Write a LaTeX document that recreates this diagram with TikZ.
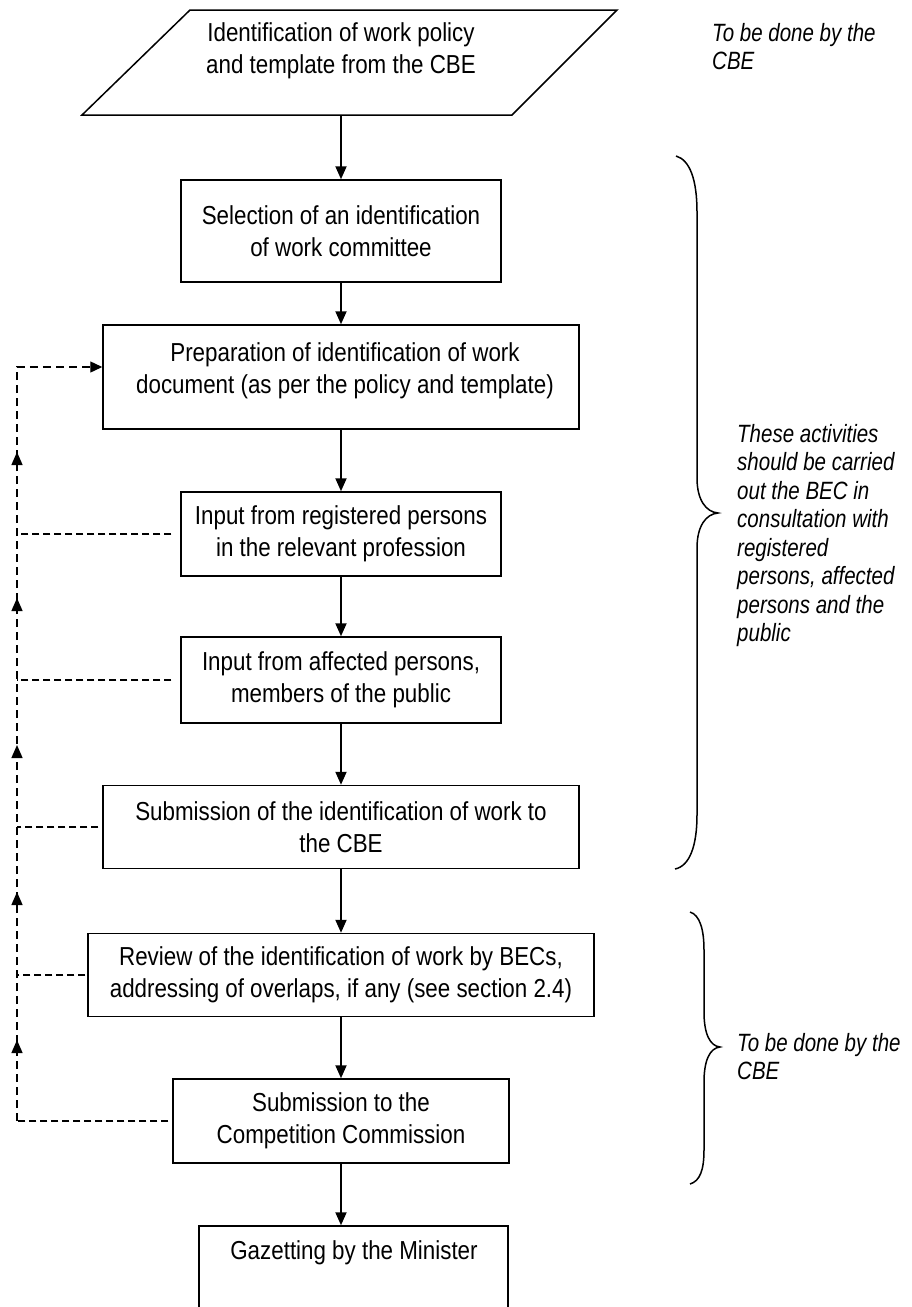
\documentclass[tikz,border=0pt]{standalone}
\usepackage{fontspec}
\setmainfont[FakeStretch=0.86]{Liberation Sans}
\newfontfamily\sidefam[FakeStretch=0.82]{Liberation Sans}
\usetikzlibrary{arrows.meta,decorations.markings}
\newcommand\boxfont{\fontsize{26}{32}\selectfont}
\newcommand\sidetext{\sidefam\itshape\fontsize{25}{28.5}\selectfont}
\begin{document}
\begin{tikzpicture}[x=1pt,y=-1pt,
  box/.style={draw, line width=1.5pt, align=center, inner sep=0pt, font=\boxfont},
  txt/.style={align=center, inner sep=0pt, font=\boxfont},
  side/.style={anchor=north west, align=left, inner sep=0pt, font=\sidetext},
  arr/.style={line width=2pt, -{Triangle[length=13pt,width=11pt]}},
  railline/.style={line width=1.4pt, dash pattern=on 8pt off 5pt},
  feedline/.style={line width=1.1pt, dash pattern=on 7pt off 4pt},
  brace/.style={line width=1.5pt}
]
\useasboundingbox (0,0) rectangle (911,1307);
\clip (0,0) rectangle (911,1307);

% parallelogram
\draw[line width=1.5pt] (190,10) -- (617,10) -- (512,115) -- (82,115) -- cycle;
\node[txt] (p) at (341,51) {Identification of work policy\\and template from the CBE};
\coordinate (pbot) at (341,115);

% boxes
\node[box, minimum width=320pt, minimum height=102pt] (b1) at (341,231) {Selection of an identification\\of work committee};
\node[box, minimum width=476pt, minimum height=104pt] (b2) at (341,377) {};
\node[txt] (b2t) at (345,371) {Preparation of identification of work\\document (as per the policy and template)};
\node[box, minimum width=320pt, minimum height=84pt] (b3) at (341,534) {Input from registered persons\\in the relevant profession};
\node[box, minimum width=320pt, minimum height=86pt] (b4) at (341,680) {Input from affected persons,\\members of the public};
\node[box, minimum width=476pt, minimum height=83pt] (b5) at (341,827) {Submission of the identification of work to\\the CBE};
\node[box, minimum width=506pt, minimum height=83pt] (b6) at (341,975) {Review of the identification of work by BECs,\\addressing of overlaps, if any (see section 2.4)};
\node[box, minimum width=336pt, minimum height=84pt] (b7) at (341,1121) {Submission to the\\Competition Commission};
\node[box, minimum width=309pt, minimum height=120pt] (b8) at (353.5,1286) {};
\node[txt] (b8t) at (354,1253) {Gazetting by the Minister};

% main arrows
\draw[arr] (pbot) -- (b1.north);
\draw[arr] (b1.south) -- (b2.north);
\draw[arr] (b2.south) -- (b3.north);
\draw[arr] (b3.south) -- (b4.north);
\draw[arr] (b4.south) -- (b5.north);
\draw[arr] (b5.south) -- (b6.north);
\draw[arr] (b6.south) -- (b7.north);
\draw[arr] (b7.south) -- (b7.south |- b8.north);

% feedback rail
\coordinate (rail) at (17,367);
\draw[railline, -{Triangle[length=12pt,width=11pt]},
  postaction={decorate, decoration={markings,
    mark=at position 81pt with {\arrow{Triangle[length=13pt,width=11pt]}},
    mark=at position 229pt with {\arrow{Triangle[length=13pt,width=11pt]}},
    mark=at position 376pt with {\arrow{Triangle[length=13pt,width=11pt]}},
    mark=at position 523pt with {\arrow{Triangle[length=13pt,width=11pt]}},
    mark=at position 669pt with {\arrow{Triangle[length=13pt,width=11pt]}}}}]
  (rail |- b7.west) -- (rail) -- ([yshift=10pt]b2.west);
\draw[feedline] ([xshift=-9pt]b3.west) -- (rail |- b3.west);
\draw[feedline] ([xshift=-9pt]b4.west) -- (rail |- b4.west);
\draw[feedline] ([xshift=-4pt]b5.west) -- (rail |- b5.west);
\draw[feedline] ([xshift=-2pt]b6.west) -- (rail |- b6.west);
\draw[feedline] ([xshift=-4pt]b7.west) -- (rail |- b7.west);

% braces
\draw[brace] (676,156) .. controls (690,160) and (697,180) .. (697,212) -- (697,478)
  .. controls (697,500) and (706,512) .. (718,513)
  .. controls (706,514) and (697,526) .. (697,548) -- (697,815)
  .. controls (697,845) and (690,866) .. (675,869);
\draw[brace] (690,912) .. controls (700,915) and (704,930) .. (704,950) -- (704,1012)
  .. controls (704,1034) and (710,1046) .. (720,1047)
  .. controls (710,1048) and (704,1060) .. (704,1082) -- (704,1150)
  .. controls (704,1170) and (700,1181) .. (690,1184);

% side notes
\node[side] (t1) at (712,23) {To be done by the\\CBE};
\node[side] (t2) at (737,424) {These activities\\should be carried\\out the BEC in\\consultation with\\registered\\persons, affected\\persons and the\\public};
\node[side] (t3) at (737,1033) {To be done by the\\CBE};
\end{tikzpicture}
\end{document}
